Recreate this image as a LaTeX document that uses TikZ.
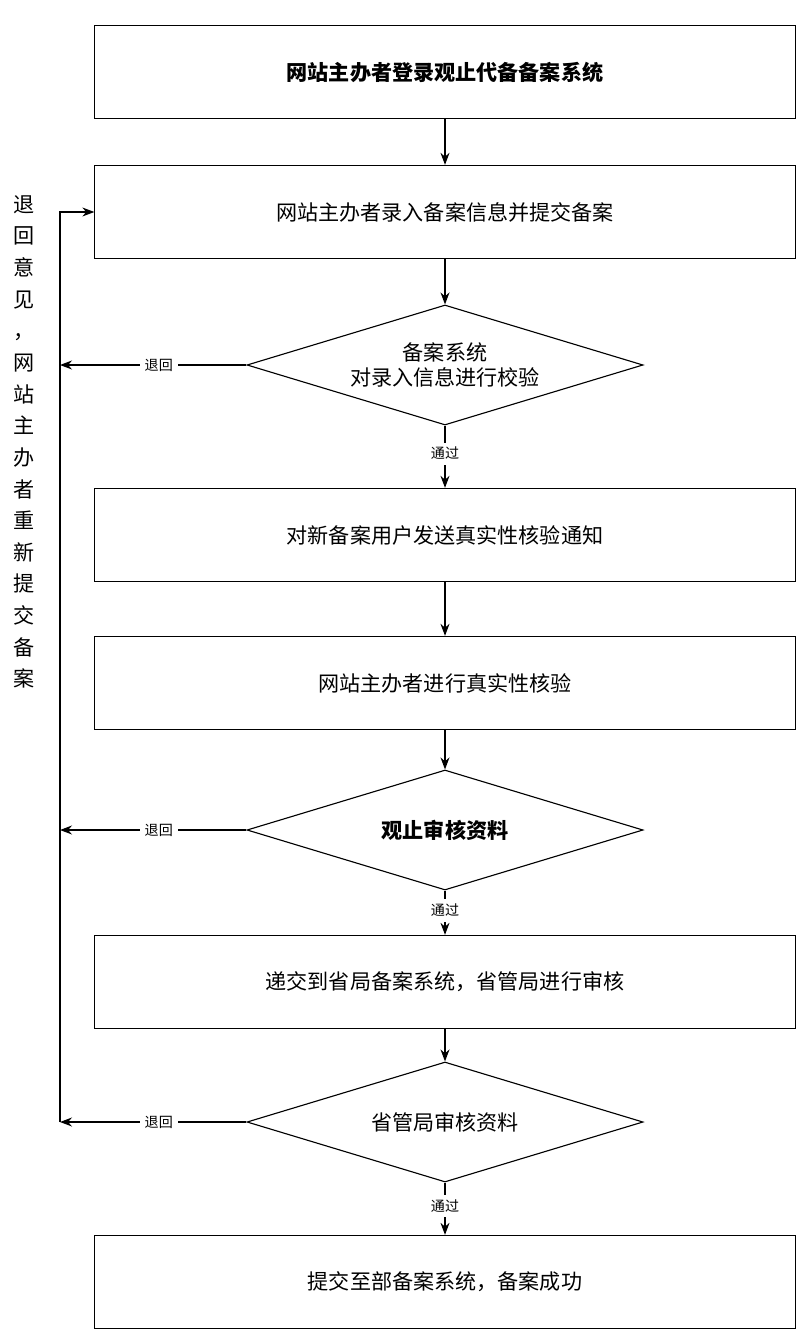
\documentclass[tikz,border=0pt]{standalone}
\usepackage{fontspec}
\setmainfont{Noto Sans CJK SC}
\usetikzlibrary{shapes.geometric,arrows.meta}
\tikzstyle{blk}=[draw, thick, minimum width=17.5cm, minimum height=2.33cm, font=\fontsize{15}{18}\selectfont]
\tikzstyle{dec}=[draw, thick, diamond, aspect=3.3, minimum width=9.9cm, minimum height=3cm, inner sep=0pt, align=center, font=\fontsize{15}{18}\selectfont]
\tikzstyle{lbl}=[font=\fontsize{10}{12}\selectfont]
\begin{document}
\begin{tikzpicture}[x=0.025cm,y=-0.025cm,>={Stealth[length=3mm]},thick]
\useasboundingbox (0,0) rectangle (800,1334);
\node[blk] (login) at (445,72) {\textbf{网站主办者登录观止代备备案系统}};
\node[blk] (input) at (445,212) {网站主办者录入备案信息并提交备案};
\node[dec] (check) at (445,365) {备案系统\\对录入信息进行校验};
\node[blk] (notify) at (445,535) {对新备案用户发送真实性核验通知};
\node[blk] (verify) at (445,683) {网站主办者进行真实性核验};
\node[dec] (audit) at (445,830) {\textbf{观止审核资料}};
\node[blk] (submit) at (445,982) {递交到省局备案系统，省管局进行审核};
\node[dec] (prov) at (445,1122) {省管局审核资料};
\node[blk] (done) at (445,1282) {提交至部备案系统，备案成功};
\coordinate (top) at (60,212);
\coordinate (r1) at (60,365);
\coordinate (r2) at (60,830);
\coordinate (r3) at (60,1122);
% main flow
\draw[->] (login) -- (input);
\draw[->] (input) -- (check);
\draw[->] (check) -- node[lbl, pos=0.45, fill=white] {通过} (notify);
\draw[->] (notify) -- (verify);
\draw[->] (verify) -- (audit);
\draw[->] (audit) -- node[lbl, pos=0.45, fill=white] {通过} (submit);
\draw[->] (submit) -- (prov);
\draw[->] (prov) -- node[lbl, pos=0.45, fill=white] {通过} (done);
% return path
\draw[->] (check) -- node[lbl, fill=white, pos=0.47] {退回} (r1);
\draw[->] (audit) -- node[lbl, fill=white, pos=0.47] {退回} (r2);
\draw[->] (prov) -- node[lbl, fill=white, pos=0.47] {退回} (r3);
\draw[->] (r3) -- (top) -- (input.west);
\node[font=\fontsize{15}{22.5}\selectfont, text width=0.6cm, align=center] (note) at (24,442) {退\\回\\意\\见\\，\\网\\站\\主\\办\\者\\重\\新\\提\\交\\备\\案};
\end{tikzpicture}
\end{document}
